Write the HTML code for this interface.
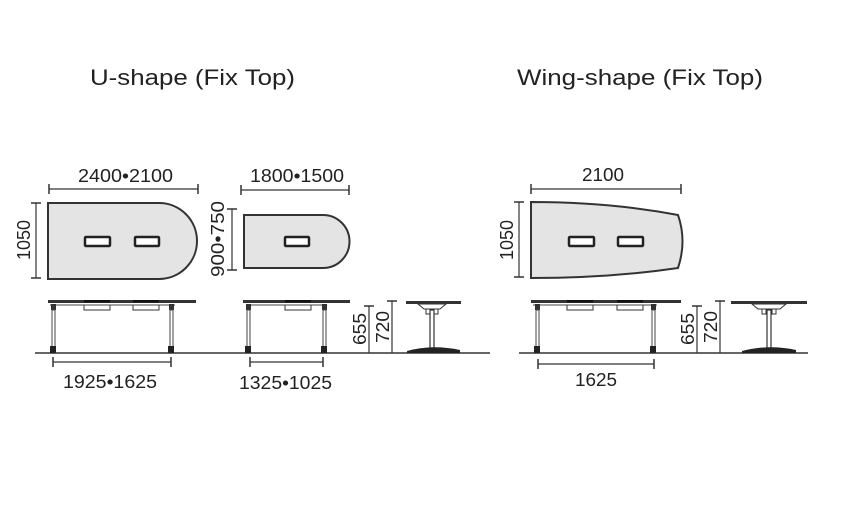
<!DOCTYPE html>
<html><head><meta charset="utf-8"><style>
html,body{margin:0;padding:0;background:#fff;}
svg{display:block;}
text{font-family:"Liberation Sans",sans-serif;fill:#222;}
</style></head><body>
<svg width="858" height="507" viewBox="0 0 858 507" xmlns="http://www.w3.org/2000/svg">
<defs>
<g id="tick"><line x1="0" y1="-5" x2="0" y2="5" stroke="#333" stroke-width="1.5"/></g>
<g id="htick"><line x1="-5" y1="0" x2="5" y2="0" stroke="#333" stroke-width="1.5"/></g>
</defs>
<g stroke-linecap="butt">
<text x="90" y="85" font-size="22" textLength="205" lengthAdjust="spacingAndGlyphs">U-shape (Fix Top)</text>
<text x="517" y="85" font-size="22" textLength="246" lengthAdjust="spacingAndGlyphs">Wing-shape (Fix Top)</text>

<!-- U big top view -->
<line x1="49" y1="189" x2="198" y2="189" stroke="#333" stroke-width="1.2"/>
<use href="#tick" x="49" y="189"/><use href="#tick" x="198" y="189"/>
<text x="78" y="182" font-size="18" textLength="95" lengthAdjust="spacingAndGlyphs">2400•2100</text>
<line x1="36" y1="203" x2="36" y2="278" stroke="#333" stroke-width="1.2"/>
<use href="#htick" x="36" y="203"/><use href="#htick" x="36" y="278"/>
<text transform="translate(30,260) rotate(-90)" font-size="18" textLength="40" lengthAdjust="spacingAndGlyphs">1050</text>
<path d="M48,203 H159 A38,38 0 0 1 159,279 H48 Z" fill="#e4e4e4" stroke="#333" stroke-width="2"/>
<rect x="85" y="237" width="25" height="9" rx="1" fill="#fff" stroke="#222" stroke-width="2.5"/>
<rect x="135" y="237" width="24" height="9" rx="1" fill="#fff" stroke="#222" stroke-width="2.5"/>

<!-- U small top view -->
<line x1="241" y1="190" x2="349" y2="190" stroke="#333" stroke-width="1.2"/>
<use href="#tick" x="241" y="190"/><use href="#tick" x="349" y="190"/>
<text x="250" y="182" font-size="18" textLength="94" lengthAdjust="spacingAndGlyphs">1800•1500</text>
<line x1="232" y1="209" x2="232" y2="270" stroke="#333" stroke-width="1.2"/>
<use href="#htick" x="232" y="209"/><use href="#htick" x="232" y="270"/>
<text transform="translate(224,277) rotate(-90)" font-size="18" textLength="76" lengthAdjust="spacingAndGlyphs">900•750</text>
<path d="M244,215 H323 A26.5,26.5 0 0 1 323,268 H244 Z" fill="#e4e4e4" stroke="#333" stroke-width="2"/>
<rect x="285" y="237" width="24" height="9" rx="1" fill="#fff" stroke="#222" stroke-width="2.5"/>

<line x1="35" y1="353" x2="490" y2="353" stroke="#333" stroke-width="1.5"/>
<line x1="519" y1="353" x2="808" y2="353" stroke="#333" stroke-width="1.5"/>

<!-- U big side -->
<rect x="48" y="300" width="148" height="3" fill="#333"/>
<rect x="84" y="300" width="26" height="2.5" fill="#111"/><rect x="133" y="300" width="26" height="2.5" fill="#111"/>
<rect x="84" y="305" width="26" height="5" fill="#fff" stroke="#333" stroke-width="1"/>
<rect x="133" y="305" width="26" height="5" fill="#fff" stroke="#333" stroke-width="1"/>
<line x1="50" y1="305" x2="175" y2="305" stroke="#444" stroke-width="1"/>
<rect x="51" y="304" width="5" height="6" fill="#333"/><rect x="169" y="304" width="5" height="6" fill="#333"/>
<rect x="52" y="310" width="3" height="40" fill="#fff" stroke="#444" stroke-width="1"/>
<rect x="170" y="310" width="3" height="40" fill="#fff" stroke="#444" stroke-width="1"/>
<rect x="50" y="346" width="6" height="7" fill="#222"/><rect x="168" y="346" width="6" height="7" fill="#222"/>
<line x1="53" y1="362" x2="171" y2="362" stroke="#333" stroke-width="1.2"/>
<use href="#tick" x="53" y="362"/><use href="#tick" x="171" y="362"/>
<text x="63" y="388" font-size="18" textLength="94" lengthAdjust="spacingAndGlyphs">1925•1625</text>

<!-- U small side -->
<rect x="243" y="300" width="107" height="3" fill="#333"/>
<rect x="285" y="300" width="26" height="2.5" fill="#111"/>
<rect x="285" y="305" width="26" height="5" fill="#fff" stroke="#333" stroke-width="1"/>
<line x1="246" y1="305" x2="326" y2="305" stroke="#444" stroke-width="1"/>
<rect x="246" y="304" width="5" height="6" fill="#333"/><rect x="322" y="304" width="5" height="6" fill="#333"/>
<rect x="247" y="310" width="3" height="40" fill="#fff" stroke="#444" stroke-width="1"/>
<rect x="323" y="310" width="3" height="40" fill="#fff" stroke="#444" stroke-width="1"/>
<rect x="245" y="346" width="6" height="7" fill="#222"/><rect x="321" y="346" width="6" height="7" fill="#222"/>
<line x1="250" y1="362" x2="323" y2="362" stroke="#333" stroke-width="1.2"/>
<use href="#tick" x="250" y="362"/><use href="#tick" x="323" y="362"/>
<text x="239" y="389" font-size="18" textLength="93" lengthAdjust="spacingAndGlyphs">1325•1025</text>

<!-- U heights -->
<line x1="369" y1="306" x2="369" y2="353" stroke="#333" stroke-width="1.2"/>
<use href="#htick" x="369" y="306"/>
<line x1="392" y1="301" x2="392" y2="353" stroke="#333" stroke-width="1.2"/>
<use href="#htick" x="392" y="301"/>
<text transform="translate(366,345) rotate(-90)" font-size="18" textLength="32" lengthAdjust="spacingAndGlyphs">655</text>
<text transform="translate(389,343) rotate(-90)" font-size="18" textLength="32" lengthAdjust="spacingAndGlyphs">720</text>

<!-- U end view -->
<rect x="406" y="301" width="55" height="3" fill="#333"/>
<path d="M418,304 h28 l-6,5 h-16 z" fill="#fff" stroke="#333" stroke-width="1"/>
<rect x="426" y="309" width="4" height="5" fill="#fff" stroke="#333" stroke-width="1"/>
<rect x="434" y="309" width="4" height="5" fill="#fff" stroke="#333" stroke-width="1"/>
<rect x="430" y="310" width="4" height="38" fill="#fff" stroke="#333" stroke-width="1.2"/>
<path d="M407,353 L407,351 Q432,344 460,350 L460,353 Z" fill="#222"/>

<!-- Wing top view -->
<line x1="531" y1="189" x2="681" y2="189" stroke="#333" stroke-width="1.2"/>
<use href="#tick" x="531" y="189"/><use href="#tick" x="681" y="189"/>
<text x="582" y="181" font-size="18" textLength="42" lengthAdjust="spacingAndGlyphs">2100</text>
<line x1="519" y1="202" x2="519" y2="277" stroke="#333" stroke-width="1.2"/>
<use href="#htick" x="519" y="202"/><use href="#htick" x="519" y="277"/>
<text transform="translate(513,260) rotate(-90)" font-size="18" textLength="40" lengthAdjust="spacingAndGlyphs">1050</text>
<path d="M531,202 Q610,202 678,215 Q687,241 678,268 Q610,278 531,278 Z" fill="#e4e4e4" stroke="#333" stroke-width="2"/>
<rect x="569" y="237" width="25" height="9" rx="1" fill="#fff" stroke="#222" stroke-width="2.5"/>
<rect x="618" y="237" width="25" height="9" rx="1" fill="#fff" stroke="#222" stroke-width="2.5"/>

<!-- Wing side -->
<rect x="531" y="300" width="150" height="3" fill="#333"/>
<rect x="567" y="300" width="26" height="2.5" fill="#111"/><rect x="617" y="300" width="26" height="2.5" fill="#111"/>
<rect x="567" y="305" width="26" height="5" fill="#fff" stroke="#333" stroke-width="1"/>
<rect x="617" y="305" width="26" height="5" fill="#fff" stroke="#333" stroke-width="1"/>
<line x1="533" y1="305" x2="657" y2="305" stroke="#444" stroke-width="1"/>
<rect x="535" y="304" width="5" height="6" fill="#333"/><rect x="651" y="304" width="5" height="6" fill="#333"/>
<rect x="536" y="310" width="3" height="40" fill="#fff" stroke="#444" stroke-width="1"/>
<rect x="652" y="310" width="3" height="40" fill="#fff" stroke="#444" stroke-width="1"/>
<rect x="534" y="346" width="6" height="7" fill="#222"/><rect x="650" y="346" width="6" height="7" fill="#222"/>
<line x1="538" y1="364" x2="654" y2="364" stroke="#333" stroke-width="1.2"/>
<use href="#tick" x="538" y="364"/><use href="#tick" x="654" y="364"/>
<text x="575" y="386" font-size="18" textLength="42" lengthAdjust="spacingAndGlyphs">1625</text>

<!-- Wing heights -->
<line x1="697" y1="306" x2="697" y2="353" stroke="#333" stroke-width="1.2"/>
<use href="#htick" x="697" y="306"/>
<line x1="720" y1="301" x2="720" y2="353" stroke="#333" stroke-width="1.2"/>
<use href="#htick" x="720" y="301"/>
<text transform="translate(694,345) rotate(-90)" font-size="18" textLength="32" lengthAdjust="spacingAndGlyphs">655</text>
<text transform="translate(717,343) rotate(-90)" font-size="18" textLength="32" lengthAdjust="spacingAndGlyphs">720</text>

<!-- Wing end view -->
<rect x="731" y="301" width="76" height="3" fill="#333"/>
<path d="M752,304 h34 l-6,5 h-22 z" fill="#fff" stroke="#333" stroke-width="1"/>
<rect x="762" y="309" width="4" height="5" fill="#fff" stroke="#333" stroke-width="1"/>
<rect x="772" y="309" width="4" height="5" fill="#fff" stroke="#333" stroke-width="1"/>
<rect x="767" y="310" width="4" height="38" fill="#fff" stroke="#333" stroke-width="1.2"/>
<path d="M742,353 L742,351 Q769,344 796,350 L796,353 Z" fill="#222"/>
</g>
</svg>
</body></html>
